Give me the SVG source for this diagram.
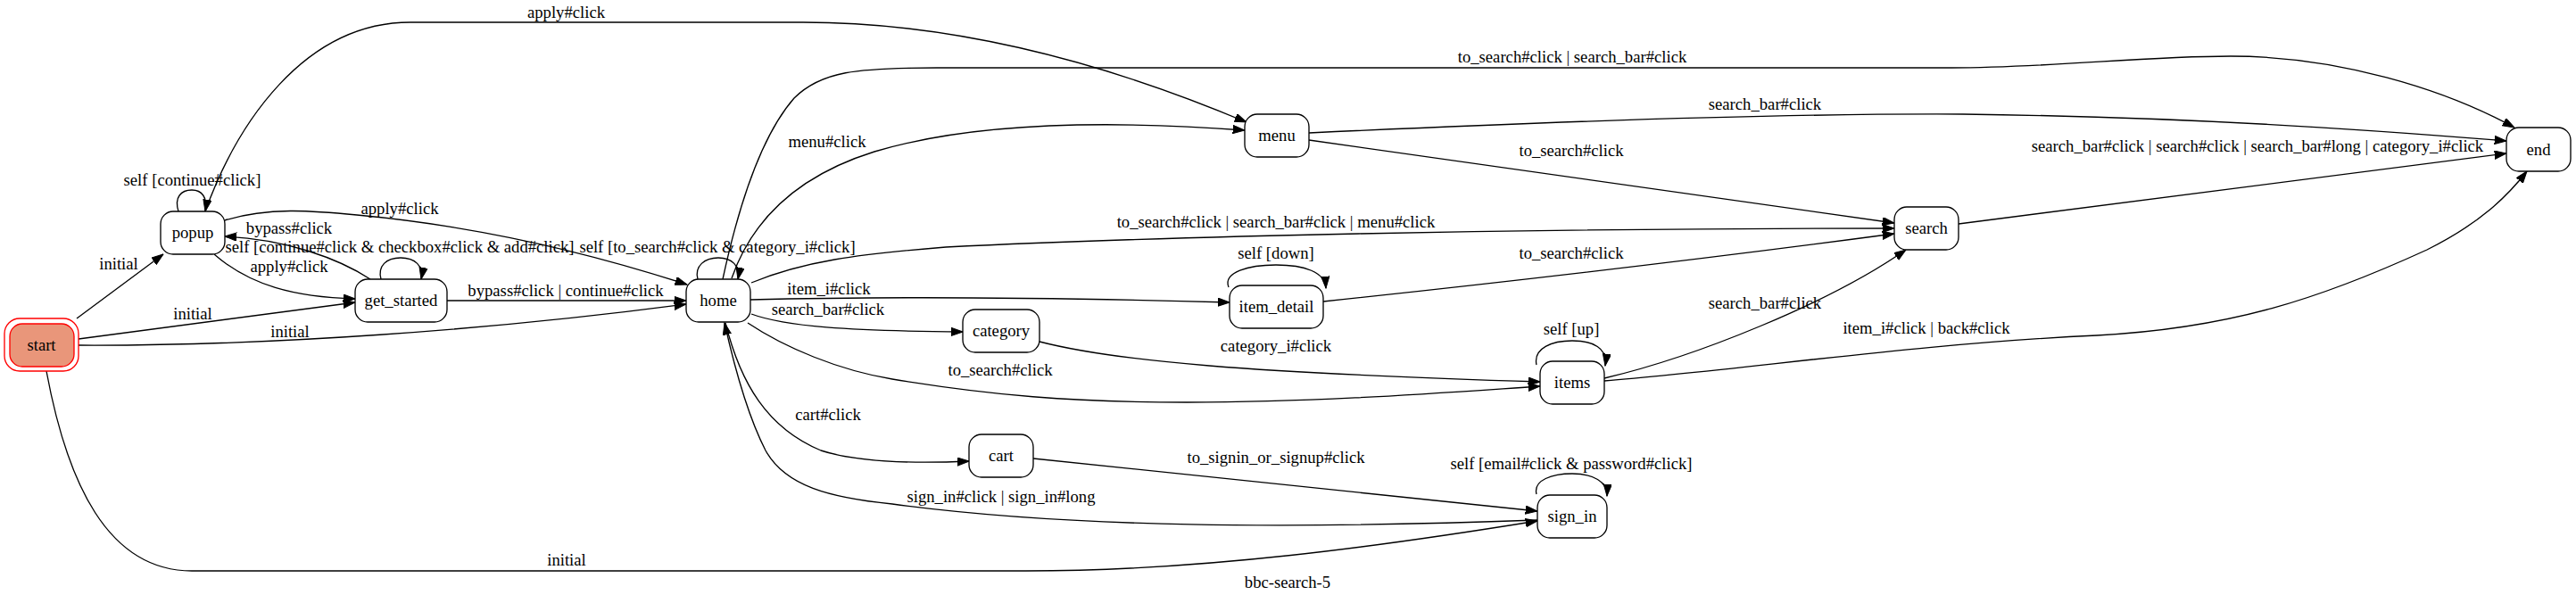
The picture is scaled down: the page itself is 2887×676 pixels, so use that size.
<svg xmlns="http://www.w3.org/2000/svg" width="2887" height="676" viewBox="0 0 2887 676">
<defs>
<style>
.n rect{fill:#fff;stroke:#000;stroke-width:1.33}
text{font-family:"Liberation Serif","Times New Roman",serif;font-size:18.67px;fill:#000;text-anchor:middle}
.e path{fill:none;stroke:#000;stroke-width:1.33;marker-end:url(#ah)}
</style>
<marker id="ah" markerUnits="userSpaceOnUse" markerWidth="14" markerHeight="10" refX="13.3" refY="4.67" orient="auto" viewBox="0 0 14 10">
<path d="M0,0 L13.3,4.67 L0,9.33 z" fill="#000" stroke="#000" stroke-width="1"/>
</marker>
</defs>
<rect width="2887" height="676" fill="#fff"/>
<g id="edges" class="e">
<path d="M86,357 L183,285"/>
<path d="M88,380 L398,339"/>
<path d="M88,387 C300,388 550,370 769,341"/>
<path d="M52,416 C75,540 120,640 215,640 L1150,640 C1350,640 1550,612 1723,584"/>
<path d="M200,237 C195,221 203,213 215,213 C226,213 233,221 230,237"/>
<path d="M230,237 C265,140 340,25 460,25 L900,25 C1080,25 1250,75 1397,137"/>
<path d="M252,247 C300,232 350,236 400,241 C530,253 650,280 770,319"/>
<path d="M415,313 C380,290 320,268 252,265"/>
<path d="M240,285 C280,320 330,333 398,335"/>
<path d="M427,313 C423,298 433,289 449,289 C465,289 475,298 472,313"/>
<path d="M501,337 L769,337"/>
<path d="M782,313 C778,298 790,289 805,289 C820,289 830,298 827,313"/>
<path d="M810,313 C830,220 855,150 890,110 C920,80 960,76 1050,76 L2187,76 C2300,76 2400,63 2500,63 C2620,63 2740,100 2818,143"/>
<path d="M820,312 C845,240 900,195 980,170 C1080,140 1220,133 1395,146"/>
<path d="M842,317 C900,293 960,285 1060,277 C1300,265 1700,256 2123,256"/>
<path d="M841,336 C1000,332 1200,334 1378,339"/>
<path d="M842,352 C880,366 950,371 1079,372"/>
<path d="M838,362 C880,390 940,415 1000,425 C1110,443 1200,451 1330,451 C1480,451 1620,440 1726,433"/>
<path d="M813,362 C830,430 860,480 920,505 C960,518 1020,520 1086,517"/>
<path d="M1723,583 C1450,593 1200,592 1000,565 C930,558 880,545 858,505 C840,470 825,420 812,362"/>
<path d="M1158,514 L1723,573"/>
<path d="M1165,383 C1250,405 1400,418 1726,428"/>
<path d="M1722,409 C1718,390 1740,382 1762,382 C1785,382 1802,390 1799,410"/>
<path d="M1722,554 C1718,538 1740,531 1762,531 C1785,531 1802,540 1801,556"/>
<path d="M1377,322 C1370,305 1400,297 1430,297 C1462,297 1485,305 1486,323"/>
<path d="M1483,338 C1700,315 1950,285 2123,262"/>
<path d="M1467,157 L2123,250"/>
<path d="M1467,149 C1700,138 2000,127 2200,128 C2450,131 2650,145 2809,158"/>
<path d="M2195,251 L2809,172"/>
<path d="M1798,424 C1900,400 2050,340 2136,280"/>
<path d="M1798,427 C1950,415 2150,385 2350,376 C2500,368 2600,335 2720,280 C2780,250 2810,220 2832,192"/>
</g>
<g id="edge-labels">
<text x="215.5" y="208">self [continue#click]</text>
<text x="634.5" y="20">apply#click</text>
<text x="448" y="240">apply#click</text>
<text x="324" y="262">bypass#click</text>
<text x="448" y="283">self [continue#click &amp; checkbox#click &amp; add#click]</text>
<text x="324" y="305">apply#click</text>
<text x="133" y="302">initial</text>
<text x="216" y="358">initial</text>
<text x="325" y="378">initial</text>
<text x="635" y="634">initial</text>
<text x="634" y="332">bypass#click | continue#click</text>
<text x="804" y="283">self [to_search#click &amp; category_i#click]</text>
<text x="1762" y="70">to_search#click | search_bar#click</text>
<text x="927" y="165">menu#click</text>
<text x="1430" y="255">to_search#click | search_bar#click | menu#click</text>
<text x="929" y="330">item_i#click</text>
<text x="928" y="353">search_bar#click</text>
<text x="1121" y="421">to_search#click</text>
<text x="928" y="471">cart#click</text>
<text x="1122" y="563">sign_in#click | sign_in#long</text>
<text x="1430" y="519">to_signin_or_signup#click</text>
<text x="1430" y="394">category_i#click</text>
<text x="1761" y="375">self [up]</text>
<text x="1761" y="526">self [email#click &amp; password#click]</text>
<text x="1430" y="290">self [down]</text>
<text x="1761" y="290">to_search#click</text>
<text x="1761" y="175">to_search#click</text>
<text x="1978" y="123">search_bar#click</text>
<text x="2530" y="170">search_bar#click | search#click | search_bar#long | category_i#click</text>
<text x="1978" y="346">search_bar#click</text>
<text x="2159" y="374">item_i#click | back#click</text>
</g>
<g id="node-start">
<rect x="5" y="357" width="83" height="59" rx="17" fill="none" stroke="#ff0000" stroke-width="1.33"/>
<rect x="11" y="363" width="72" height="48" rx="14" fill="#e9967a" stroke="#ff0000" stroke-width="1.33"/>
<text x="46.5" y="393">start</text>
</g>
<g id="node-popup" class="n"><rect x="180" y="237" width="72" height="48" rx="14"/><text x="216" y="267">popup</text></g>
<g id="node-get_started" class="n"><rect x="398" y="313" width="103" height="48" rx="14"/><text x="449.5" y="343">get_started</text></g>
<g id="node-home" class="n"><rect x="769" y="313" width="72" height="48" rx="14"/><text x="805" y="343">home</text></g>
<g id="node-menu" class="n"><rect x="1395" y="128" width="72" height="48" rx="14"/><text x="1431" y="158">menu</text></g>
<g id="node-item_detail" class="n"><rect x="1378" y="320" width="105" height="48" rx="14"/><text x="1430.5" y="350">item_detail</text></g>
<g id="node-category" class="n"><rect x="1079" y="347" width="86" height="48" rx="14"/><text x="1122" y="377">category</text></g>
<g id="node-cart" class="n"><rect x="1086" y="487" width="72" height="48" rx="14"/><text x="1122" y="517">cart</text></g>
<g id="node-items" class="n"><rect x="1726" y="405" width="72" height="48" rx="14"/><text x="1762" y="435">items</text></g>
<g id="node-sign_in" class="n"><rect x="1723" y="555" width="78" height="48" rx="14"/><text x="1762" y="585">sign_in</text></g>
<g id="node-search" class="n"><rect x="2123" y="232" width="72" height="48" rx="14"/><text x="2159" y="262">search</text></g>
<g id="node-end" class="n"><rect x="2809" y="143" width="72" height="49" rx="14"/><text x="2845" y="173.5">end</text></g>
<text id="graph-label" x="1443" y="659">bbc-search-5</text>
</svg>
